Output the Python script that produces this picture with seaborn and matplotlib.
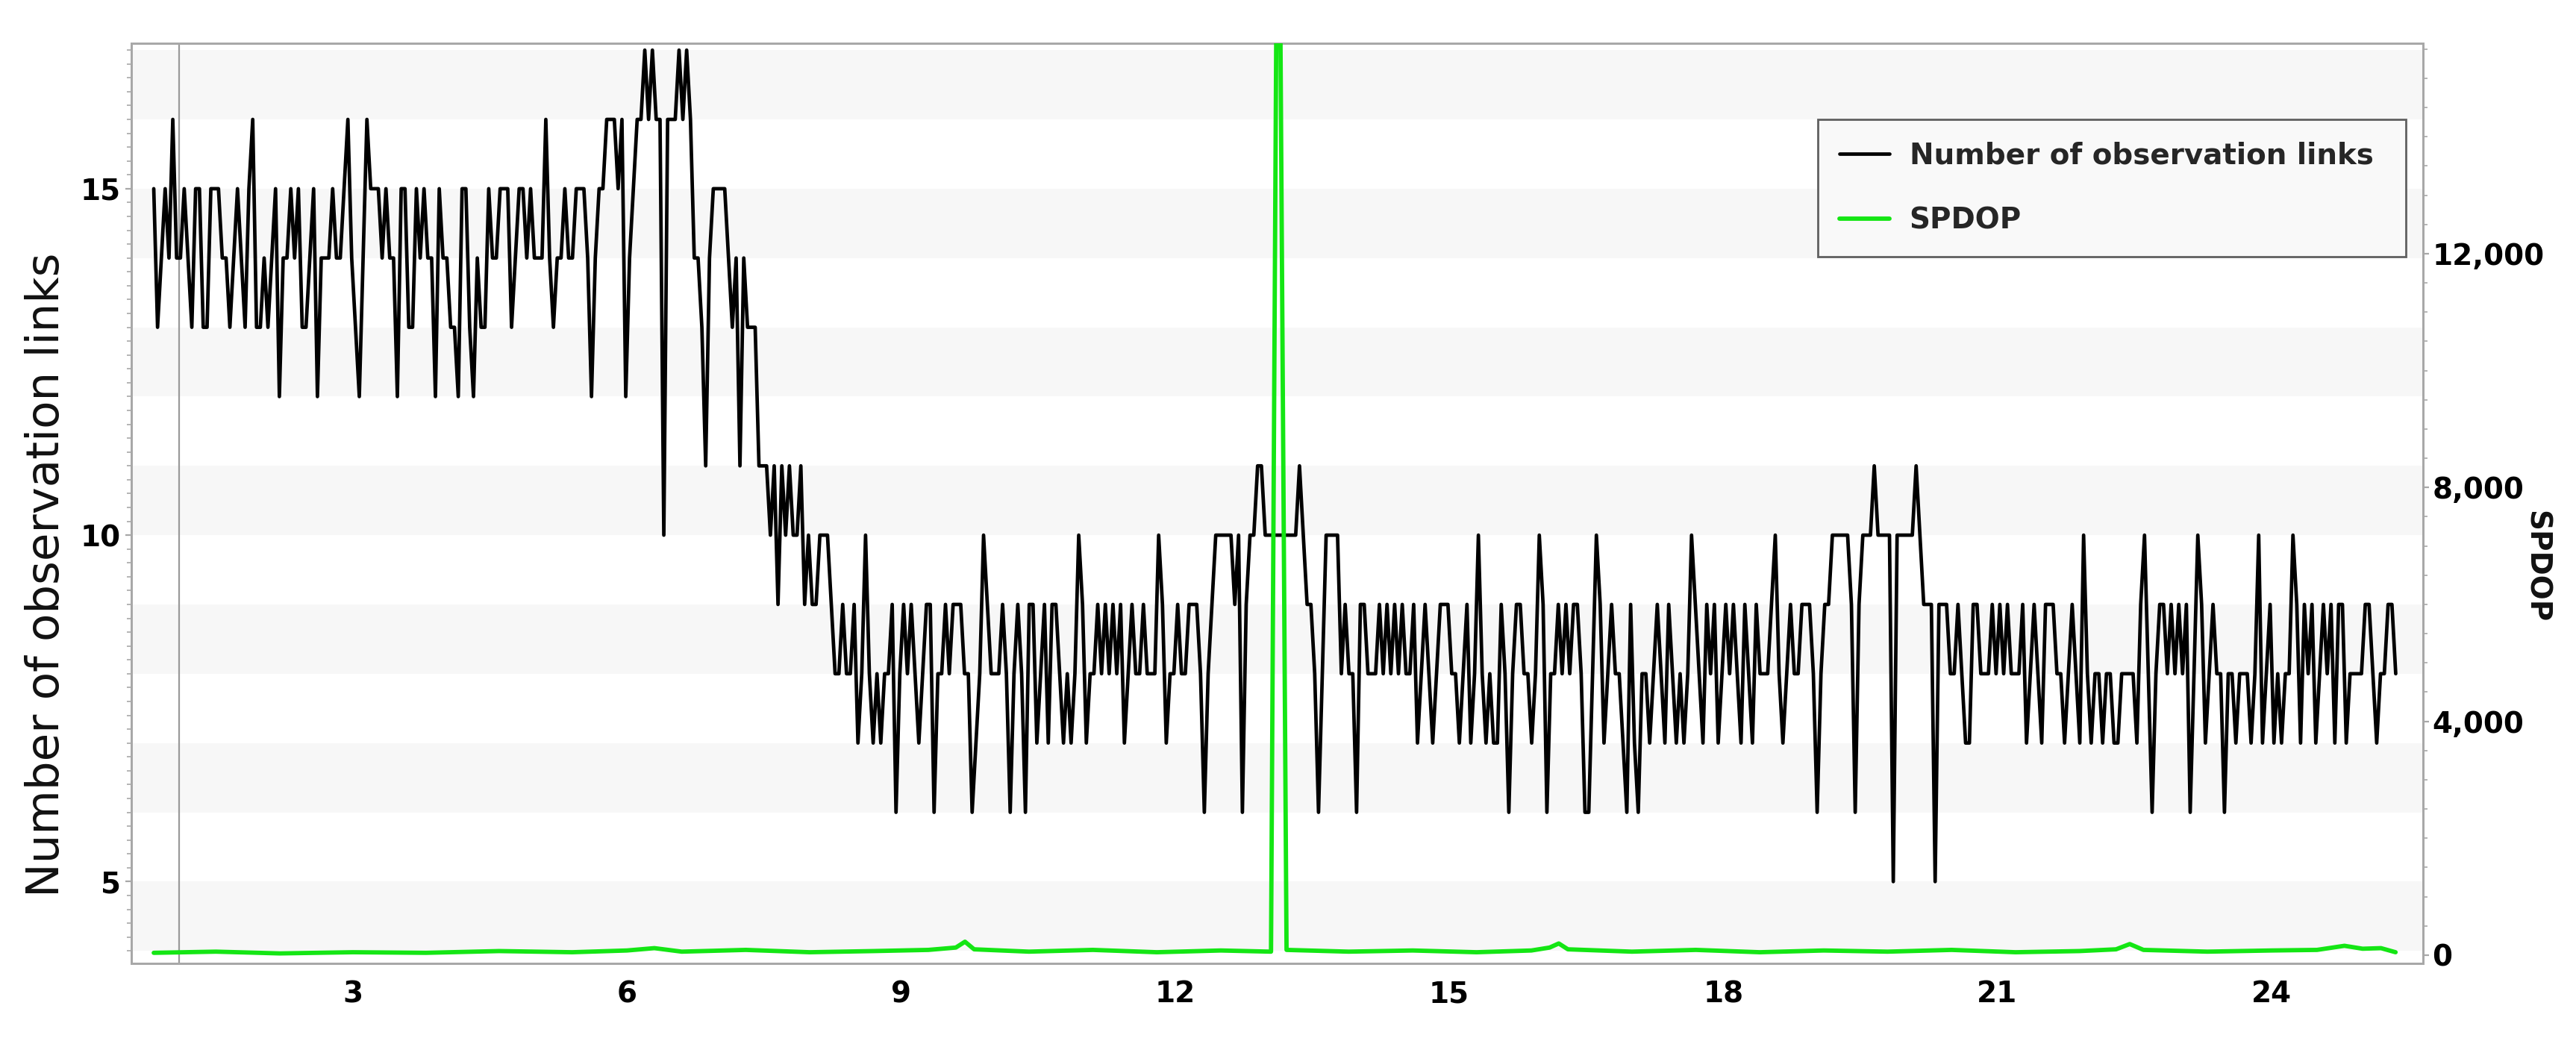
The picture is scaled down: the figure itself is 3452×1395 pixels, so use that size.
import numpy as np
import pandas as pd
import matplotlib
matplotlib.use("Agg")
import matplotlib.pyplot as plt
import seaborn as sns
from matplotlib.ticker import MultipleLocator, FuncFormatter
from matplotlib.lines import Line2D

# ---------------- data ----------------
# Number of observation links, one sample every 1/24 unit starting at t = 0.82
t_start = 0.82
t_step = 1.0 / 24.0

links_a = [15, 13, 14, 15, 14, 16, 14, 14, 15, 14, 13, 15, 15, 13, 13, 15, 15, 15, 14, 14,
           13, 14, 15, 14, 13, 15, 16, 13, 13, 14, 13, 14, 15, 12, 14, 14, 15, 14, 15, 13,
           13, 14, 15, 12, 14, 14, 14, 15, 14, 14, 15, 16, 14, 13, 12, 14, 16, 15, 15, 15,
           14, 15, 14, 14, 12, 15, 15, 13, 13, 15, 14, 15, 14, 14, 12, 15, 14, 14, 13, 13,
           12, 15, 15, 13, 12, 14, 13, 13, 15, 14, 14, 15, 15]
links_b = [15, 13, 14, 15, 15, 14, 15, 14, 14, 14, 16, 14, 13, 14, 14, 15, 14, 14, 15, 15,
           15, 14, 12, 14, 15, 15, 16, 16, 16, 15, 16, 12, 14, 15, 16, 16, 17, 16, 17, 16,
           16, 10, 16, 16, 16, 17, 16, 17, 16, 14, 14, 13, 11, 14, 15, 15, 15, 15, 14, 13,
           14, 11, 14, 13, 13, 13, 11, 11, 11, 10, 11, 9, 11, 10, 11, 10, 10, 11, 9, 10,
           9, 9, 10, 10, 10, 9, 8, 8, 9, 8, 8, 9, 7, 8]
links_c = [10, 8, 7, 8, 7, 8, 8, 9, 6, 8, 9, 8, 9, 8, 7, 8, 9, 9, 6, 8,
           8, 9, 8, 9, 9, 9, 8, 8, 6, 7, 8, 10, 9, 8, 8, 8, 9, 8, 6, 8,
           9, 8, 6, 9, 9, 7, 8, 9, 7, 9, 9, 8, 7, 8, 7, 8, 10, 9, 7, 8,
           8, 9, 8, 9, 8, 9, 8, 9, 7, 8, 9, 8, 8, 9, 8, 8, 8, 10, 9, 7,
           8, 8, 9, 8, 8, 9, 9, 9, 8, 6, 8, 9, 10, 10]
links_d = [10, 10, 10, 9, 10, 6, 9, 10, 10, 11, 11, 10, 10, 10, 10, 10, 10, 10, 10, 10,
           11, 10, 9, 9, 8, 6, 8, 10, 10, 10, 10, 8, 9, 8, 8, 6, 9, 9, 8, 8,
           8, 9, 8, 9, 8, 9, 8, 9, 8, 8, 9, 7, 8, 9, 8, 7, 8, 9, 9, 9,
           8, 8, 7, 8, 9, 7, 8, 10, 8, 7, 8, 7, 7, 9, 8, 6, 8, 9, 9, 8,
           8, 7, 8, 10, 9, 6, 8, 8, 9, 8, 9, 8, 9, 9]
links_e = [8, 6, 6, 8, 10, 9, 7, 8, 9, 8, 8, 7, 6, 9, 7, 6, 8, 8, 7, 8,
           9, 8, 7, 9, 8, 7, 8, 7, 8, 10, 9, 8, 7, 9, 8, 9, 7, 8, 9, 8,
           9, 8, 7, 9, 8, 7, 9, 8, 8, 8, 9, 10, 8, 7, 8, 9, 8, 8, 9, 9,
           9, 8, 6, 8, 9, 9, 10, 10, 10, 10, 10, 9, 6, 9, 10, 10, 10, 11, 10, 10,
           10, 10, 5, 10, 10, 10, 10, 10, 11, 10, 9, 9, 9, 5, 9]
links_f = [9, 9, 8, 8, 9, 8, 7, 7, 9, 9, 8, 8, 8, 9, 8, 9, 8, 9, 8, 8,
           8, 9, 7, 8, 9, 8, 7, 9, 9, 9, 8, 8, 7, 8, 9, 8, 7, 10, 8, 7,
           8, 8, 7, 8, 8, 7, 7, 8, 8, 8, 8, 7, 9, 10, 8, 6, 8, 9, 9, 8,
           9, 8, 9, 8, 9, 6, 8, 10, 9, 7, 8, 9, 8, 8, 6, 8, 8, 7, 8, 8,
           8, 7, 8, 10, 7, 8, 9, 7, 8, 7, 8, 8, 10, 9, 7, 9, 8, 9, 7, 8,
           9, 8, 9, 7, 9, 9, 7, 8, 8, 8, 8, 9, 9, 8, 7, 8, 8, 9, 9, 8]

# SPDOP (right axis)
spdop_time = [0.82, 1.5, 2.2, 3.0, 3.8, 4.6, 5.4, 6.0, 6.3, 6.6, 7.3, 8.0, 8.7, 9.3, 9.6, 9.7,
              9.8, 10.4, 11.1, 11.8, 12.5, 13.05, 13.11, 13.13, 13.15, 13.22, 13.9, 14.6,
              15.3, 15.9, 16.1, 16.2, 16.3, 17.0, 17.7, 18.4, 19.1, 19.8, 20.5, 21.2, 21.9,
              22.3, 22.45, 22.6, 23.3, 24.0, 24.5, 24.8, 25.0, 25.2, 25.36]
spdop_value = [40, 60, 30, 50, 40, 70, 50, 80, 120, 60, 90, 50, 70, 90, 130, 230,
               100, 60, 90, 50, 80, 60, 16500, 16500, 16500, 90, 60, 80,
               50, 80, 130, 200, 100, 60, 90, 50, 80, 60, 90, 50, 70,
               100, 190, 90, 60, 80, 90, 160, 110, 120, 50]

# ---------------- styling ----------------
GREEN = "#14e614"
BAND = "#f7f7f7"
SPINE = "#a8a8a8"

sns.set_theme(style="white")
plt.rcParams["font.family"] = ["DejaVu Sans"]

links = links_a + links_b + links_c + links_d + links_e + links_f
time = t_start + t_step * np.arange(len(links))
df_links = pd.DataFrame({"time": time, "links": links})
df_spdop = pd.DataFrame({"time": spdop_time, "spdop": spdop_value})

fig = plt.figure(figsize=(17.26, 6.975), dpi=200)
ax = fig.add_axes([0.0510, 0.0746, 0.8896, 0.8839])

for lo in range(4, 17, 2):
    ax.axhspan(lo, lo + 1, color=BAND, lw=0, zorder=0)
ax.axvline(1.1, color="#9a9a9a", lw=0.8, zorder=1)

sns.lineplot(data=df_links, x="time", y="links", ax=ax, color="black", lw=1.7,
             estimator=None, legend=False, zorder=3)

ax.set_xlim(0.575, 25.66)
ax.set_ylim(3.82, 17.1)
ax.xaxis.set_major_locator(MultipleLocator(3))
ax.yaxis.set_major_locator(MultipleLocator(5))
ax.yaxis.set_minor_locator(MultipleLocator(0.2))
ax.set_xlabel("")
ax.set_ylabel("Number of observation links", fontsize=22, color="#111111")
ax.yaxis.set_label_coords(-0.0275, 0.4225)

ax2 = ax.twinx()
sns.lineplot(data=df_spdop, x="time", y="spdop", ax=ax2, color=GREEN, lw=2.1,
             estimator=None, legend=False, zorder=4)
ax2.set_ylim(-140, 15600)
ax2.yaxis.set_major_locator(MultipleLocator(4000))
ax2.yaxis.set_minor_locator(MultipleLocator(500))
ax2.yaxis.set_major_formatter(FuncFormatter(lambda v, p: f"{v:,.0f}"))
ax2.set_ylabel("SPDOP", fontsize=14, fontweight="bold", rotation=270, color="#111111")
ax2.yaxis.set_label_coords(1.0555, 0.431)
ax2.set_xlim(0.575, 25.66)

for a in (ax, ax2):
    for s in a.spines.values():
        s.set_color(SPINE)
        s.set_linewidth(1.0)
        s.set_visible(True)

ax.tick_params(axis="x", which="major", direction="out", length=3, width=0.8,
               color=SPINE, labelsize=14, labelcolor="black", pad=5)
ax.tick_params(axis="y", which="major", direction="out", length=3, width=0.8,
               color=SPINE, labelsize=14, labelcolor="black", pad=2)
ax.tick_params(axis="y", which="minor", direction="out", length=2.2, width=0.6,
               color=SPINE, left=True)
ax2.tick_params(axis="y", which="major", direction="out", length=3, width=0.8,
                color=SPINE, labelsize=14, labelcolor="black", pad=1.5)
ax2.tick_params(axis="y", which="minor", direction="out", length=2.2, width=0.6,
                color=SPINE, right=True)
for lab in ax.get_xticklabels() + ax.get_yticklabels() + ax2.get_yticklabels():
    lab.set_fontweight("bold")

handles = [Line2D([], [], color="black", lw=1.7), Line2D([], [], color=GREEN, lw=2.1)]
leg = ax2.legend(handles, ["Number of observation links", "SPDOP"],
                 loc="upper left", bbox_to_anchor=(0.736, 0.5, 0.2566, 0.417),
                 mode="expand", borderaxespad=0.0,
                 frameon=True, fancybox=False, edgecolor="#606060", facecolor="#f9f9f9",
                 framealpha=1.0, prop={"size": 14, "weight": "bold"}, handlelength=1.7,
                 labelspacing=1.26, borderpad=0.75, handletextpad=0.7)
leg.get_frame().set_linewidth(1.0)

fig.savefig("out.png", dpi=200)
